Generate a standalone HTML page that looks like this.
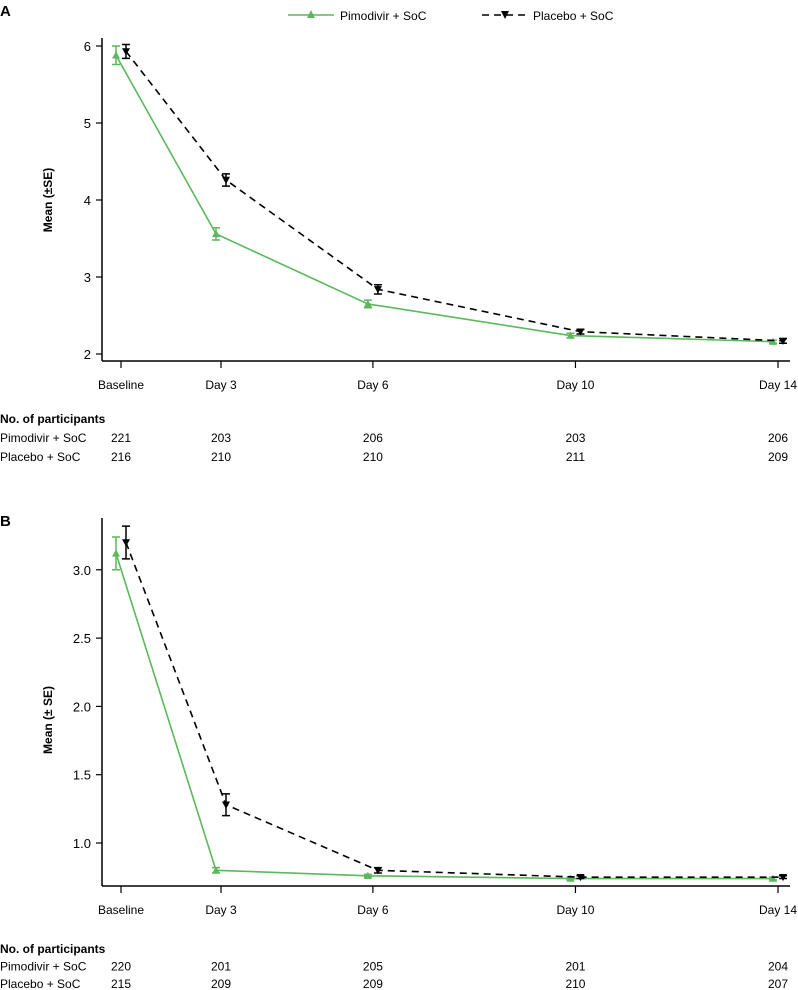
<!DOCTYPE html>
<html><head><meta charset="utf-8"><style>
body{margin:0;background:#fff;width:798px;height:990px;overflow:hidden}
svg{display:block;font-family:"Liberation Sans",Arial,sans-serif}
</style></head><body>
<svg id="chart" width="798" height="990"></svg>
<script>
const categories=["Baseline","Day 3","Day 6","Day 10","Day 14"];
const catDays=[0,3,6,10,14];
const aPimo=[5.88,3.56,2.65,2.24,2.16];
const aPimoSE=[0.12,0.08,0.05,0.03,0.02];
const aPlac=[5.93,4.26,2.84,2.29,2.17];
const aPlacSE=[0.09,0.08,0.06,0.03,0.03];
const bPimo=[3.12,0.80,0.76,0.74,0.74];
const bPimoSE=[0.12,0.02,0.01,0.01,0.01];
const bPlac=[3.20,1.28,0.80,0.75,0.75];
const bPlacSE=[0.12,0.08,0.02,0.01,0.01];
const aTicks=["2","3","4","5","6"];
const bTicks=["1.0","1.5","2.0","2.5","3.0"];
const aNPimo=[221,203,206,203,206];
const aNPlac=[216,210,210,211,209];
const bNPimo=[220,201,205,201,204];
const bNPlac=[215,209,209,210,207];

const svg=document.getElementById('chart');
const NS="http://www.w3.org/2000/svg";
function mk(tag,attrs,parent,name){const e=document.createElementNS(NS,tag);for(const k in attrs)e.setAttribute(k,attrs[k]);(parent||svg).appendChild(e);


return e;}
function txt(x,y,s,opts,name){const t=mk('text',Object.assign({x:x,y:y,'font-size':13,fill:'#000'},opts||{}),svg,name);t.textContent=s;return t;}
function xDay(d){return d<=3?121+d*(100/3):221+(d-3)*(557/11);}
const GREEN="#5cb85c";

function panel(cfg){
  const y=v=>cfg.y0+(v-cfg.v0)*cfg.k;
  mk('line',{x1:102,y1:cfg.top,x2:102,y2:cfg.bottom,stroke:'#000','stroke-width':1.5},svg,'y-axis-line');
  mk('line',{x1:102,y1:cfg.bottom,x2:790,y2:cfg.bottom,stroke:'#000','stroke-width':1.5},svg,'x-axis-line');
  cfg.ticks.forEach(t=>{const yy=y(parseFloat(t));
    mk('line',{x1:96,y1:yy,x2:102,y2:yy,stroke:'#000','stroke-width':1.2},svg,'y-tick');
    txt(91,yy+5,t,{'text-anchor':'end'},'y-tick-label');});
  categories.forEach((c,i)=>{const xx=xDay(catDays[i]);
    mk('line',{x1:xx,y1:cfg.bottom,x2:xx,y2:cfg.bottom+7,stroke:'#000','stroke-width':1.2},svg,'x-tick');
    txt(xx,cfg.bottom+28,c,{'text-anchor':'middle','font-size':12},'x-tick-label');});
  txt(0,0,cfg.title,{'font-weight':'bold','font-size':12,'text-anchor':'middle',transform:`translate(52,${cfg.titleY}) rotate(-90)`},'y-axis-title');
  function series(vals,se,off,color,dash,marker,nm){
    const pts=vals.map((v,i)=>[xDay(catDays[i])+off,y(v)]);
    mk('polyline',{points:pts.map(p=>p.join(',')).join(' '),fill:'none',stroke:color,'stroke-width':1.6,'stroke-dasharray':dash||'none'},svg,nm+'-line');
    pts.forEach((p,i)=>{const e=se[i]*Math.abs(cfg.k);
      mk('path',{d:`M${p[0]},${p[1]-e}V${p[1]+e}M${p[0]-4},${p[1]-e}H${p[0]+4}M${p[0]-4},${p[1]+e}H${p[0]+4}`,stroke:color,'stroke-width':1.5,fill:'none'},svg,nm+'-error-bar');
      const s=4;const d=marker==='up'?`M${p[0]},${p[1]-s}L${p[0]+s},${p[1]+s*0.8}L${p[0]-s},${p[1]+s*0.8}Z`:`M${p[0]},${p[1]+s}L${p[0]+s},${p[1]-s*0.8}L${p[0]-s},${p[1]-s*0.8}Z`;
      mk('path',{d:d,fill:color},svg,nm+'-marker');});
  }
  series(cfg.pimo,cfg.pimoSE,-5,GREEN,null,'up','pimodivir');
  series(cfg.plac,cfg.placSE,5,'#000','7,5','down','placebo');
  const g=cfg.rowGap;
  txt(0,cfg.tableY,'No. of participants',{'font-weight':'bold','font-size':12},'participants-header');
  txt(0,cfg.tableY+g,'Pimodivir + SoC',{'font-size':12},'pimodivir-row-label');
  txt(0,cfg.tableY+2*g,'Placebo + SoC',{'font-size':12},'placebo-row-label');
  categories.forEach((c,i)=>{const xx=xDay(catDays[i]);
    txt(xx,cfg.tableY+g,String(cfg.nPimo[i]),{'text-anchor':'middle','font-size':12},'pimodivir-count');
    txt(xx,cfg.tableY+2*g,String(cfg.nPlac[i]),{'text-anchor':'middle','font-size':12},'placebo-count');});
}
txt(0,16,'A',{'font-weight':'bold','font-size':15},'panel-a-label');
txt(0,526,'B',{'font-weight':'bold','font-size':15},'panel-b-label');
panel({top:38,bottom:361,y0:354,v0:2,k:-77,ticks:aTicks,title:'Mean (±SE)',titleY:200,pimo:aPimo,pimoSE:aPimoSE,plac:aPlac,placSE:aPlacSE,tableY:423,rowGap:19,nPimo:aNPimo,nPlac:aNPlac});
panel({top:518,bottom:886,y0:843,v0:1,k:-136.6,ticks:bTicks,title:'Mean (± SE)',titleY:720,pimo:bPimo,pimoSE:bPimoSE,plac:bPlac,placSE:bPlacSE,tableY:953,rowGap:17.5,nPimo:bNPimo,nPlac:bNPlac});
mk('line',{x1:288,y1:15,x2:334,y2:15,stroke:GREEN,'stroke-width':1.6},svg,'legend-pimodivir-line');
mk('path',{d:'M311,10L315,18L307,18Z',fill:GREEN},svg,'legend-pimodivir-marker');
txt(340,20,'Pimodivir + SoC',{'font-size':12},'legend-pimodivir-label');
mk('line',{x1:482,y1:15,x2:528,y2:15,stroke:'#000','stroke-width':1.6,'stroke-dasharray':'7,5'},svg,'legend-placebo-line');
mk('path',{d:'M505,19L509,11L501,11Z',fill:'#000'},svg,'legend-placebo-marker');
txt(533,20,'Placebo + SoC',{'font-size':12},'legend-placebo-label');
</script>
</body></html>
